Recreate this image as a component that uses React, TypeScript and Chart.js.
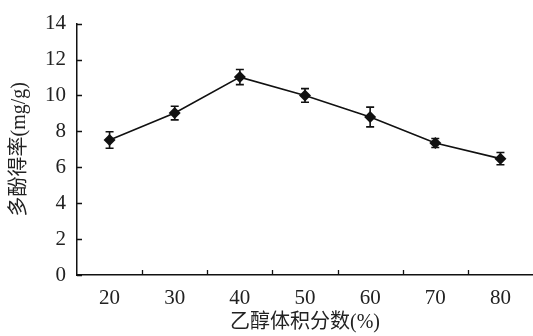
import React, { useEffect, useRef } from "react";
import { Chart, registerables } from "chart.js";

Chart.register(...registerables);

const categories = ["20", "30", "40", "50", "60", "70", "80"];
const yields = [7.52, 9.02, 11.02, 10.0, 8.8, 7.35, 6.48];
const errors = [0.46, 0.38, 0.42, 0.38, 0.55, 0.25, 0.34];
const yTicks = [0, 2, 4, 6, 8, 10, 12, 14];
const xTitle = "乙醇体积分数(%)";
const yTitle = "多酚得率(mg/g)";

const FONT = "'Liberation Serif', 'Noto Sans CJK SC', serif";

const errorBarPlugin = {
  id: "errorBars",
  beforeDatasetsDraw(chart: any) {
    const ctx = chart.ctx;
    const x = chart.scales.x;
    const y = chart.scales.y;
    ctx.save();
    ctx.strokeStyle = "#111";
    ctx.lineWidth = 1.6;
    yields.forEach((v, i) => {
      const px = x.getPixelForValue(i);
      const top = y.getPixelForValue(v + errors[i]);
      const bot = y.getPixelForValue(v - errors[i]);
      ctx.beginPath();
      ctx.moveTo(px, top);
      ctx.lineTo(px, bot);
      ctx.moveTo(px - 4, top);
      ctx.lineTo(px + 4, top);
      ctx.moveTo(px - 4, bot);
      ctx.lineTo(px + 4, bot);
      ctx.stroke();
    });
    ctx.restore();
  },
  afterDraw(chart: any) {
    const ctx = chart.ctx;
    const x = chart.scales.x;
    const y = chart.scales.y;
    const area = chart.chartArea;
    ctx.save();
    ctx.strokeStyle = "#111";
    ctx.lineWidth = 1.3;
    ctx.beginPath();
    for (let i = 0; i < categories.length - 1; i++) {
      const px = Math.round((x.getPixelForValue(i) + x.getPixelForValue(i + 1)) / 2) + 0.5;
      ctx.moveTo(px, area.bottom);
      ctx.lineTo(px, area.bottom - 5);
    }
    yTicks.forEach((t) => {
      const py = Math.round(y.getPixelForValue(t)) + 0.5;
      ctx.moveTo(area.left, py);
      ctx.lineTo(area.left + 5, py);
    });
    ctx.stroke();
    ctx.restore();
  },
};

export default function App() {
  const ref = useRef<HTMLCanvasElement>(null);
  useEffect(() => {
    document.body.style.margin = "0";
    const chart = new Chart(ref.current!, {
      type: "line",
      data: {
        labels: categories,
        datasets: [
          {
            data: yields,
            borderColor: "#111",
            backgroundColor: "#111",
            borderWidth: 1.6,
            pointStyle: "rectRot",
            pointRadius: 6,
            pointBorderWidth: 0,
            tension: 0,
          },
        ],
      },
      options: {
        animation: false,
        responsive: false,
        maintainAspectRatio: false,
        layout: { autoPadding: false, padding: { top: 19, right: 0, left: 0, bottom: 0 } },
        plugins: { legend: { display: false }, tooltip: { enabled: false } },
        scales: {
          x: {
            type: "category",
            offset: true,
            grid: { display: false, drawTicks: false },
            border: { display: true, color: "#111", width: 1.5 },
            ticks: {
              color: "#222",
              padding: 11,
              font: { family: FONT, size: 21 },
              maxRotation: 0,
            },
            title: {
              display: true,
              text: xTitle,
              color: "#222",
              font: { family: FONT, size: 20 },
              padding: { top: 0, bottom: 1 },
            },
            afterFit(s: any) {
              s.height = 61;
            },
          },
          y: {
            min: 0,
            max: 14,
            afterBuildTicks(s: any) {
              s.ticks = yTicks.map((v) => ({ value: v }));
            },
            grid: { display: false, drawTicks: false },
            border: { display: true, color: "#111", width: 1.5 },
            ticks: {
              color: "#222",
              padding: 11,
              font: { family: FONT, size: 21 },
            },
            title: {
              display: true,
              text: yTitle,
              color: "#222",
              font: { family: FONT, size: 20 },
              padding: { top: 8, bottom: 0 },
            },
            afterFit(s: any) {
              s.width = 77;
            },
          },
        },
      },
      plugins: [errorBarPlugin],
    });
    return () => chart.destroy();
  }, []);
  return (
    <div style={{ width: 533, height: 336, background: "#fff" }}>
      <canvas ref={ref} width={533} height={336} />
    </div>
  );
}
